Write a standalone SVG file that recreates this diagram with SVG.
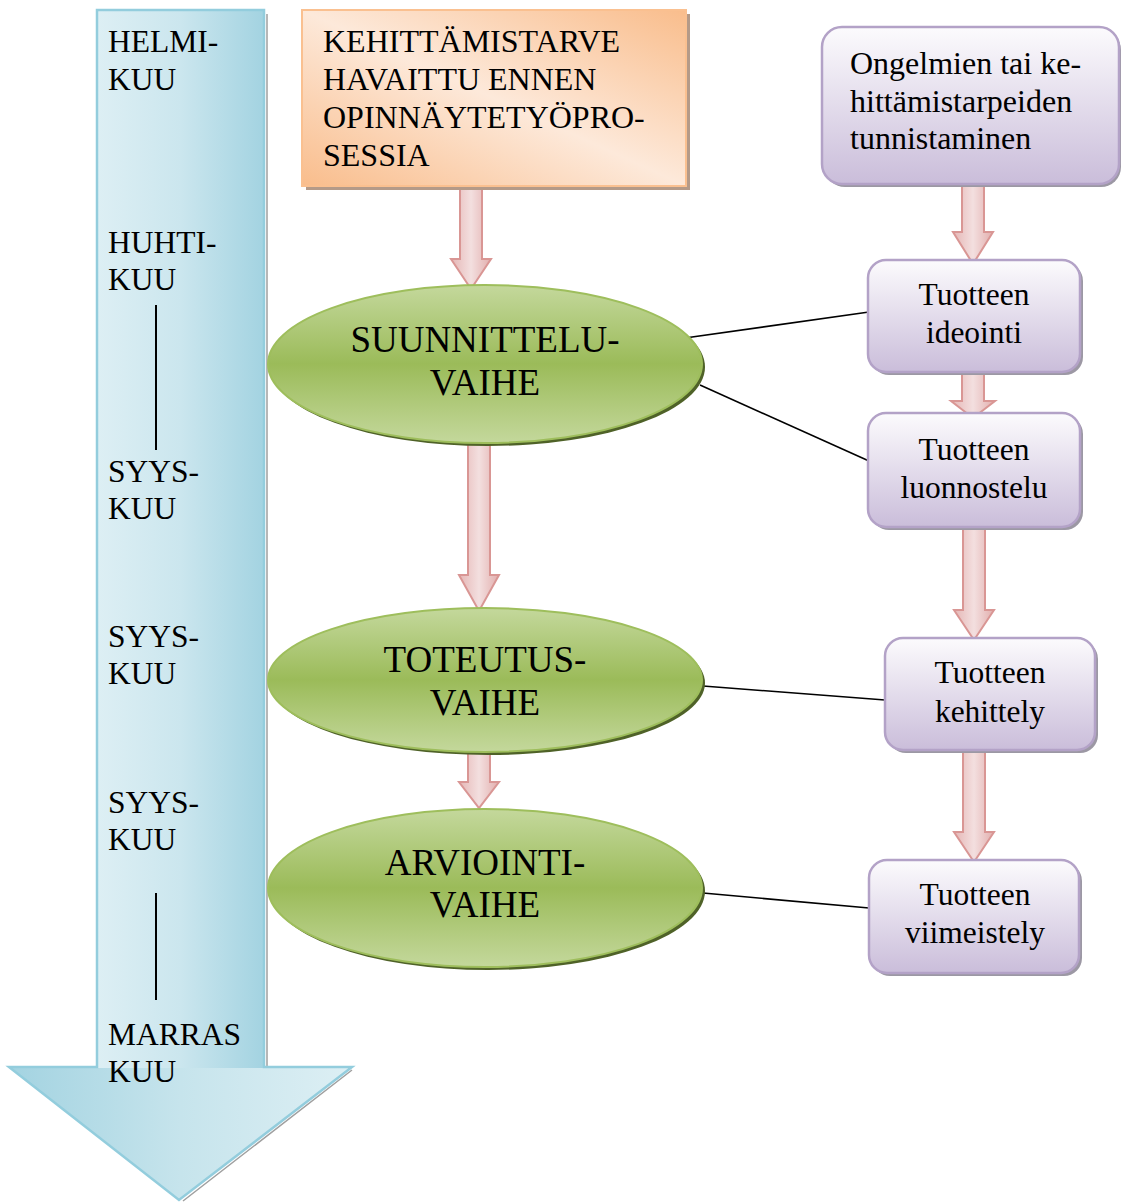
<svg xmlns="http://www.w3.org/2000/svg" width="1122" height="1202" viewBox="0 0 1122 1202">
<defs>
<linearGradient id="gShaft" x1="0" y1="0" x2="1" y2="0">
<stop offset="0" stop-color="#DDEFF4"/><stop offset="0.5" stop-color="#CBE6EE"/><stop offset="1" stop-color="#A3D3E1"/>
</linearGradient>
<linearGradient id="gHead" x1="0" y1="0" x2="1" y2="0">
<stop offset="0" stop-color="#A3D3E1"/><stop offset="0.5" stop-color="#C6E4EC"/><stop offset="1" stop-color="#DDEFF4"/>
</linearGradient>
<linearGradient id="gOrange" x1="1" y1="0" x2="0" y2="1">
<stop offset="0" stop-color="#F9BD8C"/><stop offset="0.5" stop-color="#FDE9DA"/><stop offset="1" stop-color="#F9BD8C"/>
</linearGradient>
<linearGradient id="gGreen" x1="0" y1="0" x2="0" y2="1">
<stop offset="0" stop-color="#C4D89C"/><stop offset="0.5" stop-color="#9BBB59"/><stop offset="1" stop-color="#C4D89C"/>
</linearGradient>
<linearGradient id="gPurple" x1="0" y1="0" x2="0" y2="1">
<stop offset="0" stop-color="#FCFBFD"/><stop offset="1" stop-color="#CABDDA"/>
</linearGradient>
<linearGradient id="gPink" x1="0" y1="0" x2="1" y2="0">
<stop offset="0" stop-color="#E5B6B5"/><stop offset="0.5" stop-color="#F3DFDF"/><stop offset="1" stop-color="#E2AEAD"/>
</linearGradient>
</defs>
<style>
text{font-family:'Liberation Serif','Times New Roman',serif;fill:#000;}
.tl{font-size:31.5px;}
.te{font-size:37px;text-anchor:middle;}
.tp{font-size:31.5px;text-anchor:middle;}
.tb{font-size:32px;}
.ell{fill:url(#gGreen);stroke:#9EBE5C;stroke-width:2;}
.eshadow{fill:#4F6228;}
.pbox{fill:url(#gPurple);stroke:#B3A2C7;stroke-width:2.5;}
.pshadow{fill:#9c98a4;}
.parrow{fill:url(#gPink);stroke:#D99694;stroke-width:2;}
.link{stroke:#000;stroke-width:1.6;fill:none;}
.vline{stroke:#000;stroke-width:2;}
</style>

<g id="timeline" font-family="Liberation Serif, Times New Roman, serif">
<path d="M267 14 L267 1069 M352 1070 L183 1201" fill="none" stroke="#a0a0a0" stroke-width="1.5"/>
<rect x="97" y="10" width="167" height="1060" fill="url(#gShaft)"/>
<path d="M9 1067 L352 1067 L179 1200 Z" fill="url(#gHead)"/>
<rect x="97" y="1060" width="167" height="8" fill="url(#gShaft)"/>
<path d="M97 10 L264 10 L264 1067 L352 1067 L179 1200 L9 1067 L97 1067 Z" fill="none" stroke="#93CDDD" stroke-width="2.5" stroke-linejoin="miter"/>
<text class="tl" x="108" y="52">HELMI-</text>
<text class="tl" x="108" y="90">KUU</text>
<text class="tl" x="108" y="253">HUHTI-</text>
<text class="tl" x="108" y="290">KUU</text>
<line class="vline" x1="156" y1="305" x2="156" y2="450"/>
<text class="tl" x="108" y="482">SYYS-</text>
<text class="tl" x="108" y="519">KUU</text>
<text class="tl" x="108" y="647">SYYS-</text>
<text class="tl" x="108" y="684">KUU</text>
<text class="tl" x="108" y="813">SYYS-</text>
<text class="tl" x="108" y="850">KUU</text>
<line class="vline" x1="156" y1="893" x2="156" y2="1000"/>
<text class="tl" x="108" y="1045">MARRAS</text>
<text class="tl" x="108" y="1082">KUU</text>
</g>

<g id="connectors">
<path class="parrow" d="M460 187 L482 187 L482 259 L491 259 L471 289 L451 259 L460 259 Z"/>
<path class="parrow" d="M468 443 L490 443 L490 575 L499 575 L479 611 L459 575 L468 575 Z"/>
<path class="parrow" d="M468 751 L490 751 L490 782 L499 782 L479 808 L459 782 L468 782 Z"/>
<path class="parrow" d="M962 185 L984 185 L984 232 L993 232 L973 264 L953 232 L962 232 Z"/>
<path class="parrow" d="M962 373 L984 373 L984 401 L995 401 L973 418 L951 401 L962 401 Z"/>
<path class="parrow" d="M963 528 L985 528 L985 610 L994 610 L974 640 L954 610 L963 610 Z"/>
<path class="parrow" d="M963 751 L985 751 L985 832 L994 832 L974 862 L954 832 L963 832 Z"/>
<line class="link" x1="685" y1="338" x2="869" y2="312"/>
<line class="link" x1="700" y1="385" x2="869" y2="461"/>
<line class="link" x1="703" y1="686" x2="885" y2="700"/>
<line class="link" x1="703" y1="893" x2="869" y2="908"/>
</g>

<g id="start" font-family="Liberation Serif, Times New Roman, serif">
<rect x="306" y="14" width="384" height="176" fill="#b49a88"/>
<rect x="302" y="10" width="384" height="176" fill="url(#gOrange)" stroke="#FAC090" stroke-width="2"/>
<text class="tb" x="323" y="52">KEHITTÄMISTARVE</text>
<text class="tb" x="323" y="90">HAVAITTU ENNEN</text>
<text class="tb" x="323" y="128">OPINNÄYTETYÖPRO-</text>
<text class="tb" x="323" y="166">SESSIA</text>
</g>

<g id="suunnittelu" font-family="Liberation Serif, Times New Roman, serif">
<ellipse class="eshadow" cx="488" cy="367" rx="217" ry="79"/>
<ellipse class="ell" cx="485" cy="364" rx="217" ry="79"/>
<text class="te" x="485" y="352">SUUNNITTELU-</text>
<text class="te" x="485" y="395">VAIHE</text>
</g>

<g id="toteutus" font-family="Liberation Serif, Times New Roman, serif">
<ellipse class="eshadow" cx="488" cy="683" rx="217" ry="72"/>
<ellipse class="ell" cx="485" cy="680" rx="217" ry="72"/>
<text class="te" x="485" y="672">TOTEUTUS-</text>
<text class="te" x="485" y="715">VAIHE</text>
</g>

<g id="arviointi" font-family="Liberation Serif, Times New Roman, serif">
<ellipse class="eshadow" cx="488" cy="891" rx="217" ry="79"/>
<ellipse class="ell" cx="485" cy="888" rx="217" ry="79"/>
<text class="te" x="485" y="875">ARVIOINTI-</text>
<text class="te" x="485" y="917">VAIHE</text>
</g>

<g id="ongelmien" font-family="Liberation Serif, Times New Roman, serif">
<rect class="pshadow" x="825" y="30" width="296" height="157" rx="20"/>
<rect class="pbox" x="822" y="27" width="297" height="157" rx="20"/>
<text class="tb" x="850" y="74">Ongelmien tai ke-</text>
<text class="tb" x="850" y="112">hittämistarpeiden</text>
<text class="tb" x="850" y="149">tunnistaminen</text>
</g>

<g id="ideointi" font-family="Liberation Serif, Times New Roman, serif">
<rect class="pshadow" x="871" y="263" width="212" height="112" rx="18"/>
<rect class="pbox" x="868" y="260" width="212" height="112" rx="18"/>
<text class="tp" x="974" y="305">Tuotteen</text>
<text class="tp" x="974" y="343">ideointi</text>
</g>

<g id="luonnostelu" font-family="Liberation Serif, Times New Roman, serif">
<rect class="pshadow" x="871" y="416" width="212" height="114" rx="18"/>
<rect class="pbox" x="868" y="413" width="212" height="114" rx="18"/>
<text class="tp" x="974" y="460">Tuotteen</text>
<text class="tp" x="974" y="498">luonnostelu</text>
</g>

<g id="kehittely" font-family="Liberation Serif, Times New Roman, serif">
<rect class="pshadow" x="888" y="641" width="210" height="112" rx="18"/>
<rect class="pbox" x="885" y="638" width="210" height="112" rx="18"/>
<text class="tp" x="990" y="683">Tuotteen</text>
<text class="tp" x="990" y="722">kehittely</text>
</g>

<g id="viimeistely" font-family="Liberation Serif, Times New Roman, serif">
<rect class="pshadow" x="872" y="863" width="210" height="113" rx="18"/>
<rect class="pbox" x="869" y="860" width="210" height="113" rx="18"/>
<text class="tp" x="975" y="905">Tuotteen</text>
<text class="tp" x="975" y="943">viimeistely</text>
</g>
</svg>
